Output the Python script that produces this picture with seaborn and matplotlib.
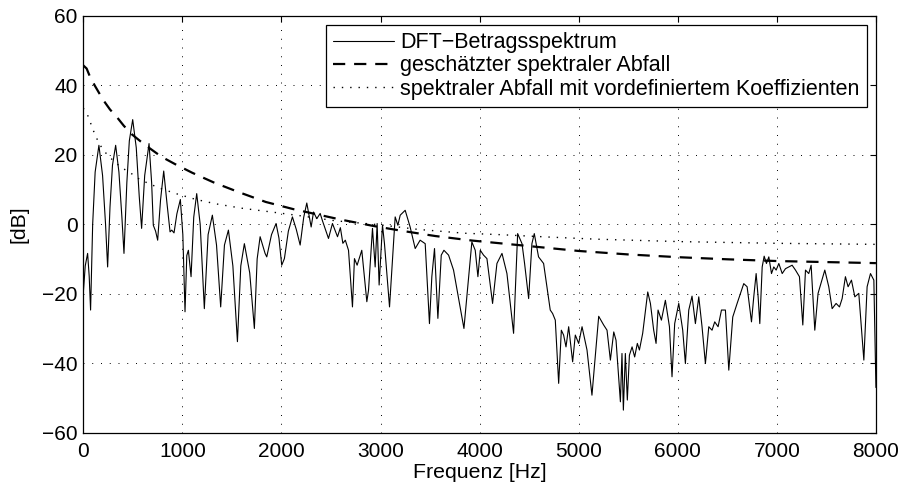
import matplotlib
matplotlib.use("Agg")
import matplotlib.pyplot as plt
import numpy as np
import pandas as pd
import seaborn as sns

# DFT magnitude spectrum
freq_spec = [0, 20, 44, 60, 74, 95, 120, 158, 195, 225, 246, 270, 295, 327, 360, 390, 411,
             440, 465, 499, 535, 565, 589, 620, 664, 690, 707, 730, 751, 780, 812, 845, 876,
             893, 916, 945, 980, 1005, 1027, 1045, 1061, 1088, 1115, 1145, 1180, 1222, 1260,
             1303, 1345, 1387, 1425, 1465, 1510, 1556, 1590, 1626, 1680, 1727, 1755, 1785,
             1815, 1835, 1852, 1900, 1946, 1975, 2003, 2030, 2070, 2111, 2150, 2189, 2225,
             2256, 2300, 2324, 2357, 2391, 2414, 2475, 2515, 2566, 2595, 2620, 2645, 2677,
             2717, 2737, 2764, 2811, 2862, 2879, 2919, 2946, 2966, 2986, 3020, 3040, 3091,
             3148, 3175, 3199, 3249, 3299, 3350, 3400, 3451, 3494, 3518, 3545, 3579, 3613,
             3640, 3687, 3737, 3842, 3922, 3956, 3983, 4007, 4040, 4074, 4131, 4175, 4226,
             4276, 4343, 4384, 4428, 4454, 4495, 4528, 4552, 4595, 4646, 4713, 4737, 4764,
             4798, 4825, 4848, 4872, 4899, 4939, 4966, 5000, 5034, 5084, 5134, 5202, 5252,
             5286, 5320, 5354, 5377, 5421, 5437, 5451, 5471, 5491, 5512, 5539, 5565, 5592,
             5613, 5646, 5697, 5724, 5757, 5781, 5801, 5835, 5875, 5916, 5942, 5969, 6010,
             6050, 6077, 6111, 6144, 6178, 6212, 6245, 6279, 6313, 6346, 6373, 6407, 6441,
             6481, 6515, 6555, 6599, 6633, 6666, 6700, 6744, 6767, 6791, 6811, 6828, 6852,
             6872, 6895, 6919, 6946, 6969, 6993, 7020, 7054, 7087, 7121, 7154, 7188, 7228,
             7262, 7289, 7322, 7346, 7383, 7416, 7484, 7524, 7558, 7598, 7632, 7659, 7692,
             7719, 7753, 7787, 7827, 7878, 7911, 7945, 7979, 8000]
db_spec = [-20, -12, -8.4, -15, -24.7, 0, 15, 22.7, 14, 0, -12.3, 5, 17, 22.7, 15, 2, -8.4,
           12, 24, 30.1, 22, 8, -1.2, 14, 23.2, 12, -0.3, -2, -4.6, 7, 15.3, 6, -2.2,
           -1.7, -2.5, 3, 7.1, -3, -25.2, -9, -7.5, -15.1, 2, 8.8, 0, -24.3, -3,
           2.6, -6, -23.8, -6, -1.7, -12, -33.8, -12, -5.6, -14, -30, -10, -3.6,
           -6.5, -8.4, -9.4, -3, 0.2, -4, -11.8, -9.9, -2, 2.1, -1.5, -6, 2,
           6.1, -0.8, 3.5, 1.6, 3.1, 1.0, -4.1, 0.2, -3.6, -1.0, -5.5, -4.6, -7.5,
           -23.8, -9.9, -11.8, -7.5, -22.3, -19, -1.2, -12.3, 0.2, -17.5, -0.3, -5.6, -23.8,
           2.1, -0.3, 2.6, 4.0, -0.8, -7, -4.6, -5.6, -28.6, -15.1, -7, -27.1, -8.9,
           -7.5, -8.9, -13.2, -30, -5.1, -7.5, -15.1, -7.5, -8.9, -9.9, -22.8, -11.3, -8.4,
           -14.2, -31.4, -2.7, -5.6, -11.3, -21.4, -5.6, -2.7, -9.4, -11.3, -24.7, -25.7, -27.6,
           -45.8, -30.5, -31.9, -35.3, -29.5, -39.6, -31.9, -34.3, -29.5, -36.2, -49.2, -26.5, -29,
           -30.5, -39.1, -31, -33.4, -51.1, -37.2, -53.5, -37.2, -50.6, -37.7, -35.3, -38.2, -34.3,
           -36.2, -31.4, -19.5, -22.8, -30.5, -34.3, -24.7, -27.6, -21.9, -29.5, -43.9, -28.6, -22.8,
           -30.5, -40.1, -24.7, -20.7, -28.6, -20.9, -29.5, -40.1, -29.5, -30.5, -28.1, -29.5, -24.7,
           -24.7, -42, -26.7, -22.8, -19.9, -17.1, -18, -28.1, -20.9, -14.2, -20.9, -28.6, -12.3,
           -9.2, -11.3, -9.4, -14.2, -12.3, -13.2, -11.3, -14.2, -12.8, -12.3, -11.8, -13.2, -15.1,
           -29, -13.2, -14.2, -11.8, -30.5, -19.9, -13.2, -18, -24.3, -22.8, -23.8, -21.4, -15.1,
           -18, -16.1, -20.9, -19.9, -39.1, -18, -14.2, -16.1, -47]

# estimated spectral tilt
freq_est = [0, 34, 67, 118, 200, 270, 337, 410, 489, 580, 673, 790, 926, 1100, 1318, 1572,
            1842, 2125, 2603, 2946, 3215, 3552, 3922, 4428, 5000, 5500, 6010, 6500, 7000,
            7500, 8000]
db_est = [45.7, 44.8, 42.5, 39.8, 35.8, 33, 30.9, 28.3, 25.9, 23.8, 21.8, 19.4, 17.3, 14.8,
          12.0, 9.2, 6.4, 4.3, 1.3, -0.6, -1.9, -3.4, -4.7, -6.1, -7.7, -8.7, -9.5, -10.1,
          -10.6, -10.9, -11.2]

# spectral tilt with predefined coefficient
freq_pre = [0, 44, 78, 111, 152, 202, 263, 337, 421, 495, 573, 664, 758, 936, 1128, 1330,
            1600, 1903, 2200, 2540, 3000, 3380, 3850, 4200, 4700, 5170, 6010, 7000, 8000]
db_pre = [33.4, 31.4, 28.8, 26.3, 23.7, 21.3, 19.4, 17.4, 15.7, 14.4, 12.8, 11.7, 10.5, 8.8,
          7.2, 5.9, 4.6, 3.5, 2.4, 1.0, -0.2, -1.5, -2.6, -3.0, -3.7, -4.3, -5.0, -5.5, -5.8]

labels = ["DFT\u2212Betragsspektrum", "geschätzter spektraler Abfall",
          "spektraler Abfall mit vordefiniertem Koeffizienten"]

sns.set_style("white")
plt.rcParams['font.family'] = ['Liberation Sans', 'DejaVu Sans']
plt.rcParams['text.color'] = 'black'
plt.rcParams['axes.labelcolor'] = 'black'
plt.rcParams['xtick.color'] = 'black'
plt.rcParams['ytick.color'] = 'black'

fig = plt.figure(figsize=(9.02, 4.92), dpi=100)
ax = fig.add_axes([0.0923, 0.1205, 0.8788, 0.8476])

sns.lineplot(x=freq_spec, y=db_spec, ax=ax, color='black', linewidth=0.8, label=labels[0])
sns.lineplot(x=freq_est, y=db_est, ax=ax, color='black', linewidth=1.6,
             linestyle=(0, (5.5, 4)), label=labels[1])
sns.lineplot(x=freq_pre, y=db_pre, ax=ax, color='black', linewidth=1.0,
             linestyle=(0, (1, 5)), label=labels[2])

ax.set_xlim(0, 8000)
ax.set_ylim(-60, 60)
ax.set_xticks(np.arange(0, 8001, 1000))
ax.set_yticks(np.arange(-60, 61, 20))
ax.grid(True, color='black', linestyle=(0, (1, 8)), linewidth=0.7)

for s in ax.spines.values():
    s.set_color('black')
    s.set_linewidth(0.9)
ax.tick_params(direction='in', length=4, width=0.8, top=True, right=True,
               labelsize=15, colors='black', labelcolor='black')
ax.tick_params(axis='x', pad=7)
ax.tick_params(axis='y', pad=4)

ax.set_xlabel("Frequenz [Hz]", fontsize=15.3, labelpad=1, color='black')
ax.set_ylabel("[dB]", fontsize=15.3, labelpad=10, color='black')

leg = ax.legend(loc='upper right', fontsize=15.5, frameon=True, fancybox=False,
                edgecolor='black', framealpha=1, handlelength=2.8, handletextpad=0.3,
                labelspacing=0.1, borderpad=0.35, borderaxespad=0.42)
leg.get_frame().set_linewidth(0.9)
for t in leg.get_texts():
    t.set_color('black')

fig.savefig("out.png", dpi=100)
